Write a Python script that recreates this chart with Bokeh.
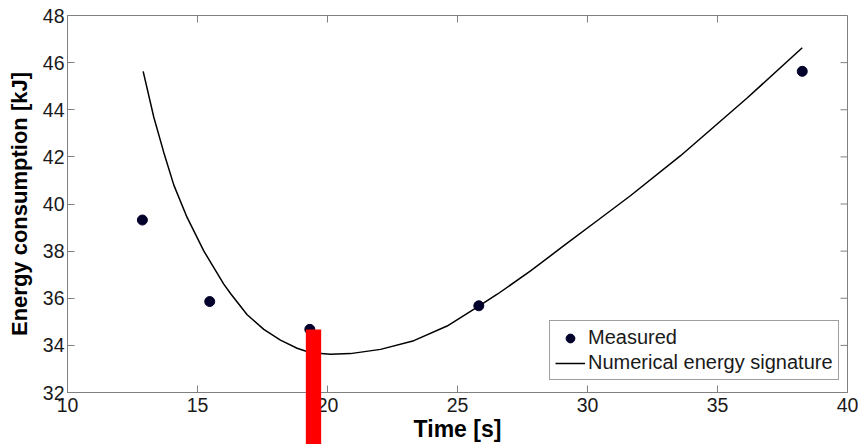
from bokeh.plotting import figure
from bokeh.models import FixedTicker, Range1d, Legend, LinearAxis
from bokeh.embed import file_html
from bokeh.resources import INLINE

# ---- data ----
measured_t = [12.88, 15.47, 19.32, 25.82, 38.26]
measured_e = [39.32, 35.86, 34.68, 35.68, 45.63]

signature_t = [12.91, 13.32, 13.70, 14.09, 14.60, 15.24, 16.01, 16.27, 16.91, 17.55,
               18.19, 18.83, 19.15, 19.50, 20.12, 20.88, 22.04, 23.32, 24.60, 25.76,
               26.53, 27.81, 29.09, 30.37, 31.65, 33.58, 36.14, 38.26]
signature_e = [45.63, 43.68, 42.20, 40.80, 39.43, 38.01, 36.60, 36.20, 35.30, 34.68,
               34.22, 33.88, 33.76, 33.68, 33.62, 33.65, 33.83, 34.20, 34.82, 35.62,
               36.17, 37.16, 38.23, 39.29, 40.35, 42.05, 44.50, 46.63]

x_ticks = [10, 15, 20, 25, 30, 35, 40]
y_ticks = [32, 34, 36, 38, 40, 42, 44, 46, 48]
x_lim = [10, 40]
y_lim = [32, 48]

# red marker bar (overlay in the reference, runs past the bottom of the axes)
bar_left = [19.17]
bar_right = [19.76]
bar_top = [34.69]

FONT = "Liberation Sans"
AXIS_GRAY = "#808080"
TXT = "#1a1a1a"
TICK_LEN = 7

W, H = 858, 444
BL, BR, BT, BB = 67, 11, 15, 52
frame_w = W - BL - BR
frame_h = H - BT - BB
px_x = frame_w / (x_lim[1] - x_lim[0])
px_y = frame_h / (y_lim[1] - y_lim[0])

p = figure(width=W, height=H, output_backend="svg", toolbar_location=None,
           x_range=Range1d(*x_lim), y_range=Range1d(*y_lim),
           min_border_left=BL, min_border_right=BR, min_border_top=BT, min_border_bottom=BB)
p.background_fill_color = "white"
p.border_fill_color = "white"
p.outline_line_color = AXIS_GRAY
p.outline_line_width = 1
p.xgrid.visible = False
p.ygrid.visible = False

xa = p.xaxis[0]
ya = p.yaxis[0]
xa.ticker = FixedTicker(ticks=x_ticks)
ya.ticker = FixedTicker(ticks=y_ticks)
xa.axis_label = "Time [s]"
ya.axis_label = "Energy consumption [kJ]"
for ax in (xa, ya):
    ax.axis_line_color = AXIS_GRAY
    ax.major_tick_line_color = AXIS_GRAY
    ax.major_tick_in = TICK_LEN
    ax.major_tick_out = 0
    ax.minor_tick_line_color = None
    ax.minor_tick_out = 0
    ax.major_label_text_font = FONT
    ax.major_label_text_font_size = "19.5px"
    ax.major_label_text_color = TXT
    ax.axis_label_text_font = FONT
    ax.axis_label_text_font_style = "bold"
    ax.axis_label_text_color = "black"
xa.axis_label_text_font_size = "23px"
ya.axis_label_text_font_size = "22px"
xa.major_label_standoff = 5
xa.axis_label_standoff = 1
ya.major_label_standoff = 3
ya.axis_label_standoff = 8

# red bar: drawn as the only (minor) tick of an outer, label-less axis that sits at
# the bottom edge of the canvas, so it can run past the frame and over the tick labels
bar_center = (bar_left[0] + bar_right[0]) / 2
bar_axis = LinearAxis(ticker=FixedTicker(ticks=[], minor_ticks=[bar_center]))
bar_axis.axis_line_color = None
bar_axis.major_tick_line_color = None
bar_axis.major_tick_in = 0
bar_axis.major_tick_out = 0
bar_axis.major_label_standoff = 0
bar_axis.axis_label = None
bar_axis.minor_tick_line_color = "#ff0000"
bar_axis.minor_tick_line_width = (bar_right[0] - bar_left[0]) * px_x
bar_axis.minor_tick_line_cap = "butt"
bar_axis.minor_tick_out = 0
bar_axis.minor_tick_in = round((bar_top[0] - y_lim[0]) * px_y + BB)
p.add_layout(bar_axis, "below")

# inward ticks on the top and right edges of the box
p.ray(x=x_ticks, y=[y_lim[1]] * len(x_ticks), length=TICK_LEN, length_units="screen",
      angle=-90, angle_units="deg", line_color=AXIS_GRAY, line_width=1)
p.ray(x=[x_lim[1]] * len(y_ticks), y=y_ticks, length=TICK_LEN, length_units="screen",
      angle=180, angle_units="deg", line_color=AXIS_GRAY, line_width=1)

line_r = p.line(signature_t, signature_e, line_color="black", line_width=1.5)
pts_r = p.scatter(measured_t, measured_e, size=10, marker="circle",
                  fill_color="#00002a", line_color="#00002a")

legend = Legend(items=[("Measured", [pts_r]), ("Numerical energy signature", [line_r])],
                location=(482, 12))
legend.label_text_font = FONT
legend.label_text_font_size = "20px"
legend.label_text_color = TXT
legend.glyph_width = 30
legend.glyph_height = 22
legend.label_height = 22
legend.label_standoff = 3
legend.spacing = 2
legend.padding = 5
legend.margin = 0
legend.border_line_color = "#404040"
legend.border_line_width = 1
legend.background_fill_color = "white"
legend.background_fill_alpha = 1.0
p.add_layout(legend, "center")

open("out.html", "w").write(file_html(p, INLINE))
